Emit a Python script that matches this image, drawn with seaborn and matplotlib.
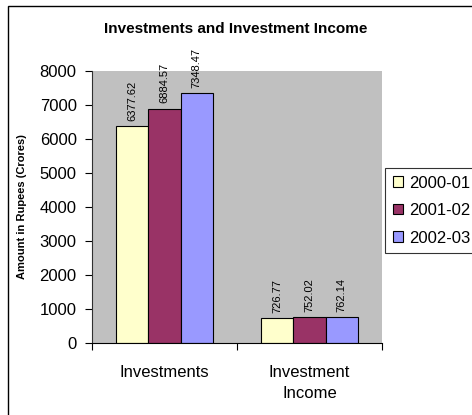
import matplotlib
matplotlib.use("Agg")
import matplotlib.pyplot as plt
import seaborn as sns
import pandas as pd
from matplotlib.patches import Rectangle

# Data
categories = ["Investments", "Investment\nIncome"]
years = ["2000-01", "2001-02", "2002-03"]
values_2000_01 = [6377.62, 726.77]
values_2001_02 = [6884.57, 752.02]
values_2002_03 = [7348.47, 762.14]
colors = ["#FFFFCC", "#993366", "#9999FF"]

series = [values_2000_01, values_2001_02, values_2002_03]
df = pd.DataFrame(
    [(c, y, v) for y, vals in zip(years, series) for c, v in zip(categories, vals)],
    columns=["category", "year", "amount"],
)

sns.set_style("white")
plt.rcParams["font.family"] = ["Liberation Sans", "DejaVu Sans"]
plt.rcParams.update({"text.color": "black", "axes.labelcolor": "black",
                     "xtick.color": "black", "ytick.color": "black"})

fig = plt.figure(figsize=(4.72, 4.15), dpi=100)
fig.patch.set_facecolor("white")

# outer chart frame
fig.add_artist(Rectangle((8 / 472, -0.05), 1.0, 1 - 6 / 415 + 0.05,
                         transform=fig.transFigure, fill=False,
                         edgecolor="black", linewidth=1.0))

ax = fig.add_axes([92 / 472, 1 - 343 / 415, 290 / 472, 272 / 415])
ax.set_facecolor("#C0C0C0")

sns.barplot(data=df, x="category", y="amount", hue="year", order=categories,
            hue_order=years, palette=colors, width=0.67, saturation=1,
            edgecolor="black", linewidth=0.8, ax=ax)

for container in ax.containers:
    ax.bar_label(container, fmt="%.2f", rotation=90, fontsize=8, padding=4,
                 color="black")

ax.set_xlim(-0.5, 1.5)
ax.set_ylim(0, 8000)
ax.set_yticks(range(0, 8001, 1000))
ax.tick_params(axis="y", labelsize=12, length=5, width=0.8, direction="out",
               left=True, pad=6)
ax.tick_params(axis="x", labelsize=12, length=0, pad=16)
for lbl in ax.get_xticklabels():
    lbl.set_linespacing(1.45)
# category boundary ticks on the x-axis
ax.set_xticks([-0.5, 0.5, 1.5], minor=True)
ax.tick_params(axis="x", which="minor", length=5, width=0.8, direction="out",
               bottom=True)

for side in ["top", "right"]:
    ax.spines[side].set_visible(False)
ax.spines["left"].set_color("#303030")
ax.spines["bottom"].set_color("black")
ax.spines["left"].set_linewidth(0.8)
ax.spines["bottom"].set_linewidth(0.8)

ax.set_xlabel("")
ax.set_ylabel("Amount in Rupees (Crores)", fontsize=8, fontweight="bold")
ax.yaxis.set_label_coords((27 - 92) / 290, 0.5)

fig.text(0.5, 1 - 29 / 415, "Investments and Investment Income",
         ha="center", va="center", fontsize=11, fontweight="bold")

leg = ax.legend(loc="upper left", bbox_to_anchor=(385 / 472, 1 - 168 / 415),
                bbox_transform=fig.transFigure, fontsize=12, frameon=True,
                fancybox=False, edgecolor="black", handlelength=0.6,
                handleheight=0.6, handletextpad=0.4, borderpad=0.45,
                labelspacing=0.75, borderaxespad=0)
leg.get_frame().set_linewidth(0.8)
for h in leg.legend_handles:
    h.set_edgecolor("black")
    h.set_linewidth(0.8)

fig.savefig("out.png", dpi=100)
